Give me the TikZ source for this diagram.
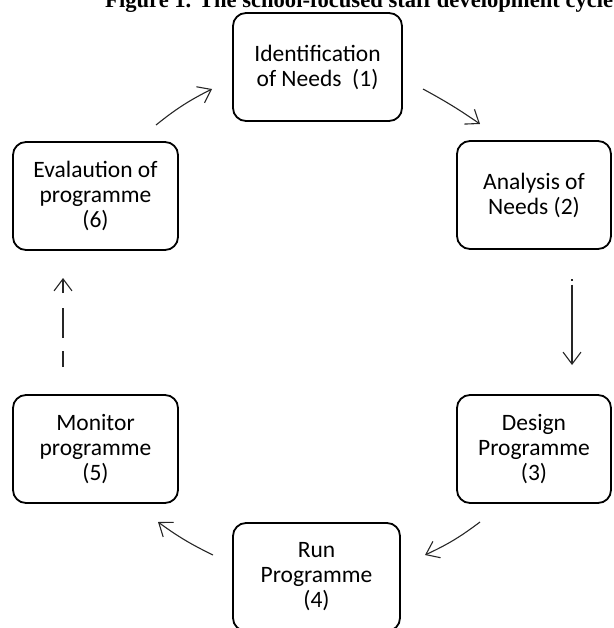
\documentclass[tikz,border=0pt]{standalone}
\usepackage{fontspec}
\setmainfont{Carlito}
\newfontfamily\titlefont{Liberation Serif}
\usetikzlibrary{arrows.meta}
\begin{document}
\begin{tikzpicture}[x=1pt,y=-1pt,
  stage/.style={draw=black, line width=1.8pt, rounded corners=13pt,
    minimum width=#1, minimum height=108pt, inner sep=0pt, align=center,
    font=\fontsize{23.5}{25}\selectfont},
  sketch/.style={draw=black!85, line width=1.1pt,
    -{Straight Barb[length=12pt,width=18pt,line width=1.1pt]}}]
\useasboundingbox (0,0) rectangle (613,628);
\clip (0,0) rectangle (613,628);
\node[anchor=base west, inner sep=0pt,
  font=\titlefont\bfseries\fontsize{22.6}{25}\selectfont] (title) at (105,8)
  {Figure 1. The school-focused staff development cycle};
\node[stage=169pt] (n1) at (317.5,67) {Identification\\of Needs~~(1)};
\node[stage=154pt] (n2) at (534,195) {Analysis of\\Needs (2)};
\node[stage=154pt] (n3) at (534,449) {Design\\Programme\\(3)};
\node[stage=167pt] (n4) at (316.5,577) {Run\\Programme\\(4)};
\node[stage=165pt] (n5) at (95.5,449) {Monitor\\programme\\(5)};
\node[stage=165pt] (n6) at (95.5,196) {Evalaution of\\programme\\(6)};
% arrow end points
\coordinate (a61) at (156,125); \coordinate (b61) at (212,89);
\coordinate (a12) at (423,89);  \coordinate (b12) at (480,124);
\coordinate (a23) at (572,279); \coordinate (b23) at (572,365);
\coordinate (a34) at (480,522); \coordinate (b34) at (425,555);
\coordinate (a45) at (213,555); \coordinate (b45) at (158,522);
\coordinate (a56) at (63,367);  \coordinate (b56) at (63,278);
\draw[sketch] (a61) to[bend left=6] (b61);
\draw[sketch] (a12) to[bend left=3] (b12);
\draw[sketch, dash pattern=on 1.5pt off 4pt on 100pt] (a23) -- (b23);
\draw[sketch] (a34) to[bend left=6] (b34);
\draw[sketch] (a45) to[bend left=5] (b45);
\draw[sketch, dash pattern=on 16pt off 13pt on 30pt off 15pt on 20pt] (a56) -- (b56);
\end{tikzpicture}
\end{document}
